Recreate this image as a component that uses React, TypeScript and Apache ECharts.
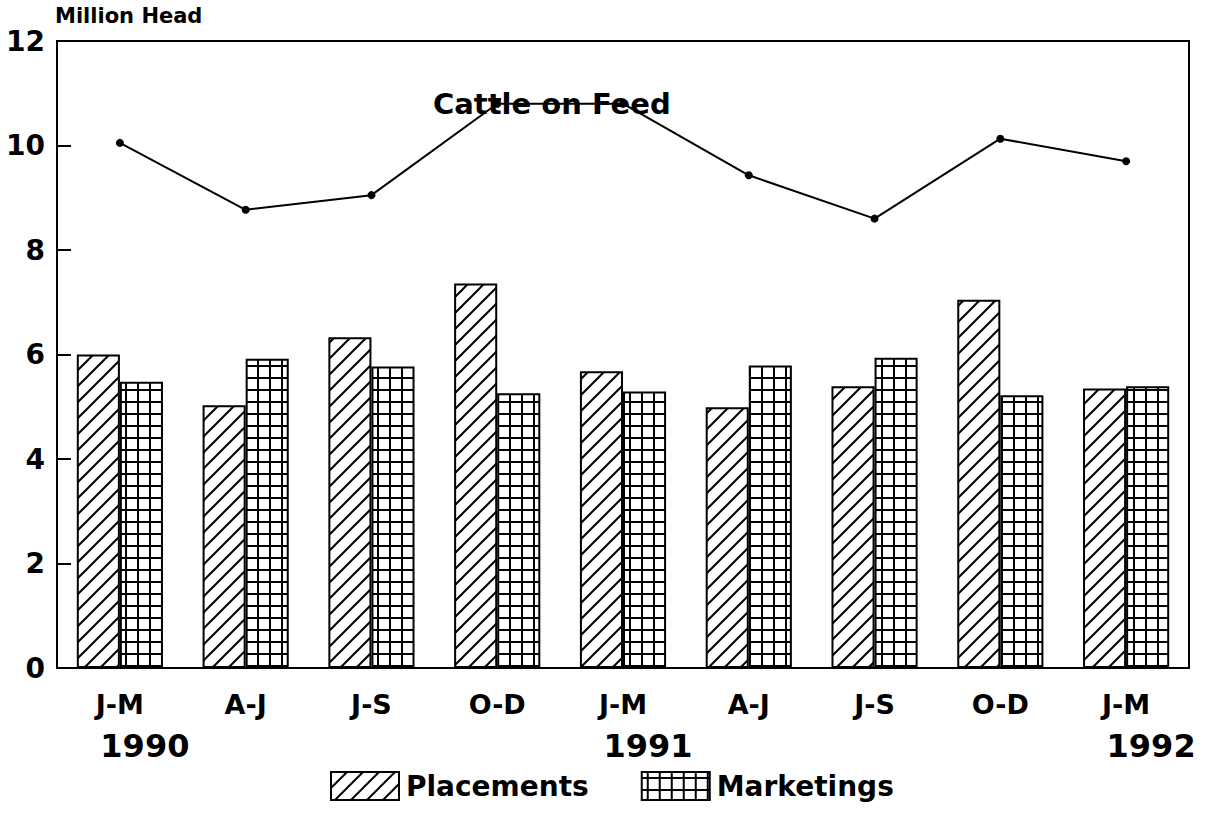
import React, { useEffect, useRef } from "react";
import * as echarts from "echarts";

const categories = ["J-M", "A-J", "J-S", "O-D", "J-M", "A-J", "J-S", "O-D", "J-M"];
const years = ["1990", "", "", "", "1991", "", "", "", "1992"];
const placements = [6.0, 5.03, 6.33, 7.36, 5.68, 4.99, 5.39, 7.05, 5.35];
const marketings = [5.48, 5.92, 5.77, 5.26, 5.29, 5.79, 5.94, 5.22, 5.39];
const cattleOnFeed = [10.05, 8.77, 9.05, 10.8, 10.8, 9.43, 8.6, 10.13, 9.7];
const yTicks = { min: 0, max: 12, interval: 2 };

const FONT = "DejaVu Sans";

function hatchPattern(): string {
  const s = 16;
  const c = document.createElement("canvas");
  c.width = s;
  c.height = s;
  const ctx = c.getContext("2d")!;
  ctx.fillStyle = "#fff";
  ctx.fillRect(0, 0, s, s);
  ctx.strokeStyle = "#000";
  ctx.lineWidth = 2;
  ctx.beginPath();
  ctx.moveTo(-2, s + 2);
  ctx.lineTo(s + 2, -2);
  ctx.moveTo(-2, 2);
  ctx.lineTo(2, -2);
  ctx.moveTo(s - 2, s + 2);
  ctx.lineTo(s + 2, s - 2);
  ctx.stroke();
  return c.toDataURL();
}

function gridPattern(): string {
  const s = 12;
  const c = document.createElement("canvas");
  c.width = s;
  c.height = s;
  const ctx = c.getContext("2d")!;
  ctx.fillStyle = "#fff";
  ctx.fillRect(0, 0, s, s);
  ctx.fillStyle = "#000";
  ctx.fillRect(5, 0, 2, s);
  ctx.fillRect(0, 5, s, 2);
  return c.toDataURL();
}

export default function App() {
  const ref = useRef<HTMLDivElement>(null);
  useEffect(() => {
    if (!ref.current) return;
    const chart = echarts.init(ref.current, null, { renderer: "svg" });
    const hatch = { image: hatchPattern(), repeat: "repeat" };
    const grid = { image: gridPattern(), repeat: "repeat" };
    chart.setOption({
      animation: false,
      backgroundColor: "#fff",
      textStyle: { fontFamily: FONT, fontWeight: "bold", color: "#000" },
      grid: {
        left: 57,
        right: 16,
        top: 41,
        bottom: 151,
        show: true,
        borderColor: "#000",
        borderWidth: 2,
      },
      legend: {
        data: ["Placements", "Marketings"],
        left: 325,
        top: 766,
        icon: "rect",
        itemWidth: 68,
        itemHeight: 28,
        itemGap: 52,
        textStyle: { fontFamily: FONT, fontWeight: "bold", fontSize: 28, color: "#000", padding: [0, 0, 0, 2] },
      },
      graphic: [
        {
          type: "text",
          left: 55,
          top: 5,
          style: { text: "Million Head", font: `bold 21px "${FONT}"`, fill: "#000" },
        },
        {
          type: "text",
          left: 433,
          top: 89,
          z: 0,
          style: { text: "Cattle on Feed", font: `bold 29px "${FONT}"`, fill: "#000" },
        },
      ],
      xAxis: {
        type: "category",
        data: categories,
        boundaryGap: true,
        axisLine: { show: true, lineStyle: { color: "#000", width: 2 } },
        axisTick: { show: false },
        axisLabel: {
          margin: 16,
          interval: 0,
          formatter: (v: string, i: number) =>
            years[i] ? `{c|${v}}\n{y|${years[i]}}` : `{c|${v}}`,
          rich: {
            c: { fontFamily: FONT, fontWeight: "bold", fontSize: 27, color: "#000", lineHeight: 40 },
            y: {
              fontFamily: FONT,
              fontWeight: "bold",
              fontSize: 32,
              color: "#000",
              lineHeight: 44,
              padding: [0, 0, 0, 50],
            },
          },
        },
      },
      yAxis: {
        type: "value",
        min: yTicks.min,
        max: yTicks.max,
        interval: yTicks.interval,
        splitLine: { show: false },
        axisLine: { show: true, lineStyle: { color: "#000", width: 2 } },
        axisTick: { show: true, inside: true, length: 14, lineStyle: { color: "#000", width: 2 } },
        axisLabel: { fontFamily: FONT, fontWeight: "bold", fontSize: 28, color: "#000", margin: 12 },
      },
      series: [
        {
          name: "Placements",
          type: "bar",
          data: placements,
          barGap: "0%",
          barCategoryGap: "31.5%",
          itemStyle: { color: hatch, borderColor: "#000", borderWidth: 2 },
          z: 2,
        },
        {
          name: "Marketings",
          type: "bar",
          data: marketings,
          itemStyle: { color: grid, borderColor: "#000", borderWidth: 2 },
          z: 2,
        },
        {
          name: "Cattle on Feed",
          type: "line",
          data: cattleOnFeed,
          symbol: "circle",
          symbolSize: 8,
          lineStyle: { color: "#000", width: 2 },
          itemStyle: { color: "#000" },
          z: 5,
        },
      ],
    });
    return () => chart.dispose();
  }, []);
  return (
    <div
      ref={ref}
      style={{ position: "fixed", left: 0, top: 0, width: 1205, height: 819, background: "#fff" }}
    />
  );
}
